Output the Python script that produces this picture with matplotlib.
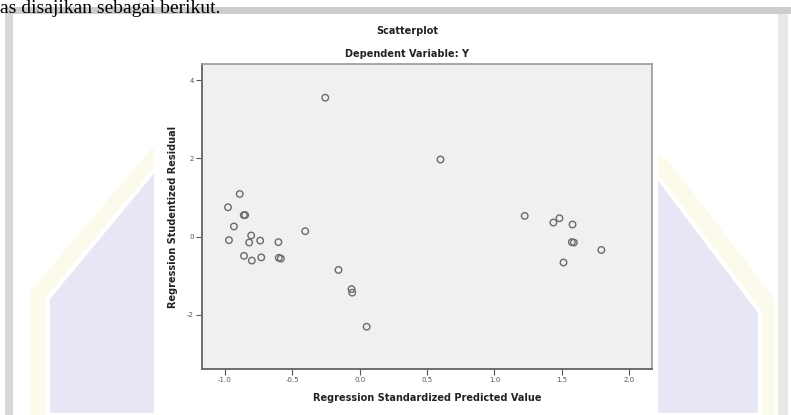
import matplotlib.pyplot as plt
from matplotlib.patches import Polygon, Rectangle

x_pred = [-0.255, 0.60, -0.89, -0.977, -0.86, -0.85, -0.933, -0.97, -0.805, -0.82,
          -0.738, -0.603, -0.404, -0.858, -0.80, -0.73, -0.60, -0.585, -0.157, -0.06,
          -0.055, 0.052, 1.225, 1.438, 1.483, 1.58, 1.575, 1.59, 1.513, 1.794]
y_resid = [3.55, 1.97, 1.09, 0.75, 0.55, 0.55, 0.26, -0.09, 0.03, -0.15,
           -0.10, -0.14, 0.14, -0.49, -0.61, -0.53, -0.54, -0.56, -0.85, -1.34,
           -1.43, -2.30, 0.53, 0.36, 0.47, 0.31, -0.14, -0.15, -0.66, -0.34]
x_ticks = [-1.0, -0.5, 0.0, 0.5, 1.0, 1.5, 2.0]
x_ticklabels = ["-1.0", "-0.5", "0.0", "0.5", "1.0", "1.5", "2.0"]
y_ticks = [4, 2, 0, -2]
y_ticklabels = ["4", "2", "0", "-2"]

W, H = 791, 415
fig = plt.figure(figsize=(W / 100, H / 100), dpi=100)
fig.patch.set_facecolor("white")

def px(x, y):
    # pixel (from top-left) -> figure fraction
    return (x / W, 1 - y / H)

# page background: faint watermark + screenshot frame
outer = [px(30, 415), px(30, 292), px(150, 150), px(400, 40), px(668, 160), px(775, 300), px(775, 415)]
inner = [px(48, 415), px(48, 298), px(156, 168), px(400, 62), px(660, 180), px(760, 312), px(760, 415)]
fig.patches.append(Polygon(outer, closed=True, transform=fig.transFigure,
                           facecolor="#fcfaea", edgecolor="none", zorder=0))
fig.patches.append(Polygon(inner, closed=True, transform=fig.transFigure,
                           facecolor="#e6e6f4", edgecolor="white", linewidth=3, zorder=0))
fig.patches.append(Rectangle(px(5, 14), (786 / W), 7 / H, transform=fig.transFigure,
                             facecolor="#cdcdcd", edgecolor="none", zorder=0))
fig.patches.append(Rectangle(px(5, 415), 8 / W, 401 / H, transform=fig.transFigure,
                             facecolor="#d8d8d8", edgecolor="none", zorder=0))
fig.patches.append(Rectangle(px(778, 415), 10 / W, 401 / H, transform=fig.transFigure,
                             facecolor="#e8e8e8", edgecolor="none", zorder=0))

# white chart area
fig.patches.append(Rectangle(px(154, 415), 504 / W, 395 / H, transform=fig.transFigure,
                             facecolor="white", edgecolor="none", zorder=1))

# text of the document above the picture
fig.text(0, px(0, 13)[1], "as disajikan sebagai berikut.", family="Liberation Serif",
         fontsize=14, va="baseline", ha="left", color="black")

ax = fig.add_axes([202 / W, 1 - 369 / H, 450 / W, 305 / H])
ax.set_zorder(5)
ax.set_facecolor("#f0f0f0")
ax.scatter(x_pred, y_resid, s=22, facecolors="none", edgecolors="#6a6a6a", linewidths=1.0)

ax.set_xlim(-1.17, 2.17)
ax.set_ylim(-3.38, 4.41)
ax.set_xticks(x_ticks)
ax.set_xticklabels(x_ticklabels)
ax.set_yticks(y_ticks)
ax.set_yticklabels(y_ticklabels)
ax.tick_params(axis="both", labelsize=5, colors="#555555", length=4, width=0.8, pad=2)

for s in ["left", "bottom"]:
    ax.spines[s].set_color("#6e6e6e")
    ax.spines[s].set_linewidth(1.4)
for s in ["top", "right"]:
    ax.spines[s].set_color("#999999")
    ax.spines[s].set_linewidth(1.2)

ax.set_xlabel("Regression Standardized Predicted Value", fontsize=7, fontweight="bold",
              color="#222222", labelpad=7)
ax.set_ylabel("Regression Studentized Residual", fontsize=7, fontweight="bold",
              color="#222222", labelpad=6)

fig.text(407 / W, px(0, 31)[1], "Scatterplot", fontsize=7, fontweight="bold",
         ha="center", va="center", color="#222222", zorder=6)
fig.text(407 / W, px(0, 54)[1], "Dependent Variable: Y", fontsize=7, fontweight="bold",
         ha="center", va="center", color="#222222", zorder=6)

plt.savefig("out.png", dpi=100)
